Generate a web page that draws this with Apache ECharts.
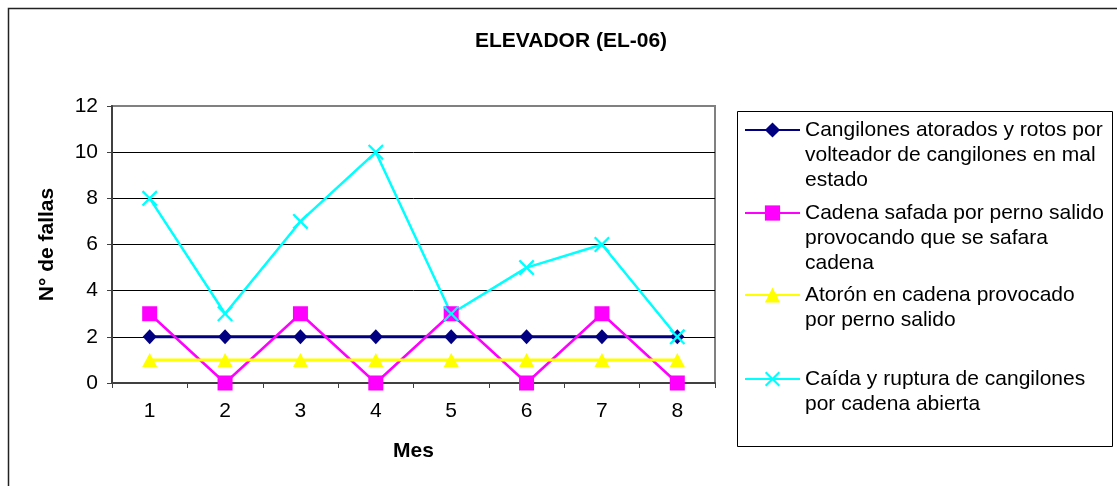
<!DOCTYPE html>
<html>
<head>
<meta charset="utf-8">
<title>ELEVADOR (EL-06)</title>
<script src="https://cdn.jsdelivr.net/npm/echarts@6/dist/echarts.min.js"></script>
<style>
  html, body { margin: 0; padding: 0; background: #fff; }
  #chart { width: 1117px; height: 486px; }
</style>
</head>
<body>
<div id="chart"></div>
<script>
// datos
const meses = ['1', '2', '3', '4', '5', '6', '7', '8']
const yTicks = [0, 2, 4, 6, 8, 10, 12]

const nombres = [
  'Cangilones atorados y rotos por volteador de cangilones en mal estado',
  'Cadena safada por perno salido provocando que se safara cadena',
  'Atorón en cadena provocado por perno salido',
  'Caída y ruptura de cangilones por cadena abierta'
]
// cortes de línea como en la leyenda original
const lineasLeyenda = [
  ['Cangilones atorados y rotos por', 'volteador de cangilones en mal', 'estado'],
  ['Cadena safada por perno salido', 'provocando que se safara', 'cadena'],
  ['Atorón en cadena provocado', 'por perno salido'],
  ['Caída y ruptura de cangilones', 'por cadena abierta']
]

const atorados = [2, 2, 2, 2, 2, 2, 2, 2]
const safada = [3, 0, 3, 0, 3, 0, 3, 0]
const atoron = [1, 1, 1, 1, 1, 1, 1, 1]
const caida = [8, 3, 7, 10, 3, 5, 6, 2]

const colores = ['#000080', '#ff00ff', '#ffff00', '#00ffff']
const simbolos = [
  'diamond',
  'rect',
  'triangle',
  'path://M0,1L1,0L5,4L9,0L10,1L6,5L10,9L9,10L5,6L1,10L0,9L4,5Z'
]
const tamanos = [[14, 15], 15, [15, 14], 16]
const grosores = [3, 2.5, 3, 2.5]
const valores = [atorados, safada, atoron, caida]

const fuente = '"Liberation Sans", Arial, sans-serif'
const alto = 25
// posición vertical del símbolo de cada entrada de la leyenda
const leyendaY = [130, 213, 295, 379]

const chart = echarts.init(document.getElementById('chart'), null, { renderer: 'canvas' })

// el símbolo queda centrado en el texto: se anteponen líneas vacías
// para que quede a la altura de la primera línea
const leyendas = nombres.map((n, i) => {
  const k = lineasLeyenda[i].length
  const bloque = (2 * k - 1) * alto
  const vacias = new Array(k - 1).fill('')
  return {
    data: [n],
    left: 744,
    top: leyendaY[i] - bloque / 2,
    padding: 0,
    itemWidth: 55,
    itemHeight: 19,
    selectedMode: false,
    formatter: () => vacias.concat(lineasLeyenda[i]).join('\n'),
    textStyle: {
      fontFamily: fuente,
      fontSize: 21,
      color: '#000',
      lineHeight: alto
    }
  }
})

chart.setOption({
  backgroundColor: '#fff',
  animation: false,
  title: {
    text: 'ELEVADOR (EL-06)',
    left: 566,
    top: 26,
    textAlign: 'center',
    textStyle: { fontFamily: fuente, fontSize: 21, fontWeight: 'bold', color: '#000' }
  },
  legend: leyendas,
  grid: {
    left: 112,
    right: 402,
    top: 106,
    bottom: 103,
    show: true,
    borderColor: '#808080',
    borderWidth: 2,
    backgroundColor: 'transparent'
  },
  xAxis: {
    type: 'category',
    data: meses,
    boundaryGap: true,
    name: 'Mes',
    nameLocation: 'middle',
    nameGap: 58,
    nameTextStyle: { fontFamily: fuente, fontSize: 21, fontWeight: 'bold', color: '#000' },
    axisLine: { lineStyle: { color: '#404040', width: 2 } },
    axisTick: { show: true, length: 5, lineStyle: { color: '#404040', width: 1 } },
    axisLabel: { fontFamily: fuente, fontSize: 21, color: '#000', margin: 18 }
  },
  yAxis: {
    type: 'value',
    min: yTicks[0],
    max: yTicks[yTicks.length - 1],
    interval: 2,
    name: 'N° de fallas',
    nameLocation: 'middle',
    nameRotate: 90,
    nameGap: 54,
    nameTextStyle: { fontFamily: fuente, fontSize: 21, fontWeight: 'bold', color: '#000' },
    axisLine: { show: true, lineStyle: { color: '#404040', width: 2 } },
    axisTick: { show: true, length: 5, lineStyle: { color: '#404040', width: 1 } },
    axisLabel: { fontFamily: fuente, fontSize: 21, color: '#000', margin: 14 },
    splitLine: {
      show: true,
      lineStyle: { color: ['#000', '#000', '#000', '#000', '#000', '#000', '#808080'], width: 1 }
    }
  },
  series: nombres.map((n, i) => ({
    name: n,
    type: 'line',
    data: valores[i],
    symbol: simbolos[i],
    symbolSize: tamanos[i],
    showAllSymbol: true,
    lineStyle: { color: colores[i], width: grosores[i] },
    itemStyle: { color: colores[i] }
  })),
  graphic: [
    {
      type: 'rect',
      shape: { x: 8.5, y: 8.5, width: 1200, height: 600 },
      style: { fill: 'none', stroke: '#222', lineWidth: 1.5 },
      silent: true
    },
    {
      type: 'rect',
      shape: { x: 737.5, y: 111.5, width: 375, height: 335 },
      style: { fill: 'none', stroke: '#000', lineWidth: 1 },
      silent: true
    }
  ]
})
</script>
</body>
</html>
